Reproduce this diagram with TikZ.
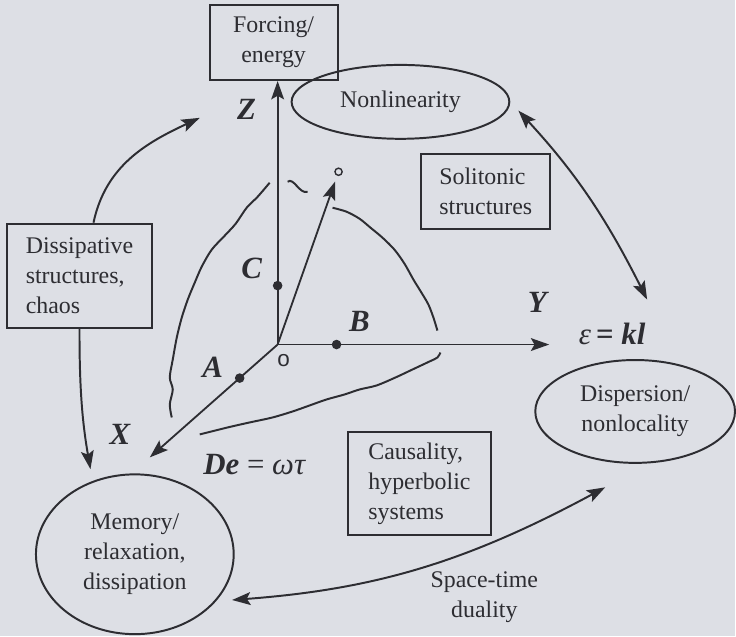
\documentclass[tikz,border=0pt]{standalone}
\usepackage{fontspec}
\setmainfont{Liberation Serif}
\setsansfont{Liberation Sans}
\usetikzlibrary{arrows.meta,shapes.geometric,calc}

\definecolor{paper}{RGB}{221,223,229}
\definecolor{ink}{RGB}{45,45,50}

\begin{document}
\begin{tikzpicture}[
  box/.style={rectangle, draw=ink, line width=1.4pt, minimum width=3.2cm, minimum height=1.875cm, align=left, font=\fontsize{17}{21.5}\selectfont, text=ink, inner sep=0pt},
  oval/.style={ellipse, draw=ink, line width=1.4pt, align=center, font=\fontsize{17}{21.5}\selectfont, text=ink, inner sep=0pt},
  lbl/.style={font=\fontsize{22}{26}\selectfont\bfseries\itshape, text=ink},
  dot/.style={circle, fill=ink, inner sep=0pt, minimum size=2.4mm},
  arr/.style={-{Stealth[length=4.6mm, width=3.2mm, inset=0.9mm]}, line width=1.3pt, draw=ink},
  dbl/.style={{Stealth[length=4.6mm, width=3.2mm, inset=0.9mm]}-{Stealth[length=4.6mm, width=3.2mm, inset=0.9mm]}, line width=1.4pt, draw=ink},
  wave/.style={draw=ink, line width=1.4pt}
]
  \fill[paper] (0,0) rectangle (18.4,15.925);

  % boxes and ovals
  \node[box, align=center] (force) at (6.85,14.86) {Forcing/\\energy};
  \node[oval, minimum width=5.45cm, minimum height=1.85cm] (nonlin) at (10.025,13.375) {Nonlinearity};
  \node[box, minimum width=3.225cm] (soliton) at (12.16,11.14) {Solitonic\\structures};
  \node[box, minimum width=3.625cm, minimum height=2.6cm] (dissip) at (1.99,9.025) {Dissipative\\structures,\\chaos};
  \node[oval, minimum width=4.95cm, minimum height=4cm] (memory) at (3.375,2.05) {Memory/\\relaxation,\\dissipation};
  \node[oval, minimum width=5cm, minimum height=2.575cm] (dispers) at (15.9,5.625) {Dispersion/\\nonlocality};
  \node[box, minimum width=3.6cm, minimum height=2.575cm] (causal) at (10.5,3.8125) {Causality,\\hyperbolic\\systems};
  \node[text=ink, font=\fontsize{17}{21.5}\selectfont, align=center] (duality) at (12.125,0.975) {Space-time\\duality};

  % axes
  \coordinate (o) at (6.95,7.3);
  \coordinate (xend) at (3.75,4.475);
  \coordinate (yend) at (13.75,7.3);
  \node[dot] (c) at (6.95,8.775) {};
  \node[dot] (b) at (8.425,7.3) {};
  \node[dot] (a) at (6.0,6.46) {};
  \node[circle, draw=ink, line width=1pt, inner sep=0pt, minimum size=1.8mm] (ring) at (8.475,11.625) {};
  \draw[arr] (o) -- (o |- force.south);
  \draw[arr] (o) -- (yend);
  \draw[arr] (o) -- (xend);
  \draw[arr, shorten >=1.5mm] (o) -- (ring);

  \node[lbl] (zl) at (6.175,13.175) {Z};
  \node[lbl] (cl) at (6.3,9.2) {C};
  \node[lbl] (bl) at (9.0,7.875) {B};
  \node[lbl] (al) at (5.325,6.725) {A};
  \node[lbl] (xl) at (3.0,5.05) {X};
  \node[lbl] (yl) at (13.45,8.35) {Y};
  \node[text=ink, font=\sffamily\fontsize{16}{18}\selectfont] (ol) at (7.1,6.9) {o};
  \node[text=ink, font=\fontsize{22}{26}\selectfont] (del) at (6.375,4.3) {\textbf{\textit{De}} = \textit{ωτ}};
  \node[text=ink, font=\fontsize{22}{26}\selectfont] (epsl) at (15.325,7.575) {\textit{ε}\,\textbf{= \textit{kl}}};

  % wavy outlines
  \draw[wave] plot[smooth] coordinates {(6.75,11.35) (6.45,11.0) (6.175,10.725) (5.9,10.325) (5.625,10.025) (5.3,9.675) (5.05,9.25) (4.875,8.85) (4.7,8.425) (4.55,7.975) (4.425,7.475) (4.325,6.925) (4.25,6.475) (4.325,6.175) (4.25,5.8) (4.3,5.475)};
  \draw[wave] (7.2,11.375) .. controls (7.35,11.5) and (7.5,11.05) .. (7.7,11.125);
  \draw[wave] plot[smooth] coordinates {(8.325,10.725) (8.675,10.625) (9.0,10.45) (9.275,10.225) (9.575,9.975) (9.875,9.675) (10.125,9.325) (10.35,8.925) (10.55,8.6) (10.725,8.3) (10.85,7.975) (10.95,7.65)};
  \draw[wave] plot[smooth] coordinates {(11.025,7.1) (10.95,6.975) (10.75,6.875) (10.325,6.675) (9.9,6.475) (9.425,6.275) (9.0,6.175) (8.625,6.05) (8.175,5.925) (7.75,5.775) (7.325,5.625) (6.825,5.475) (6.25,5.35) (5.7,5.225) (5.0,5.05)};

  % links
  \coordinate (zarr) at (5.0,12.975);
  \coordinate (epsup) at (16.2,8.425);
  \coordinate (disdn) at (15.15,3.725);
  \draw[arr, line width=1.4pt] ([xshift=0.35cm]dissip.north) to[out=78, in=205] (zarr);
  \draw[arr, line width=1.4pt, shorten >=0.3cm] (dissip.south) to[bend right=5] (memory.120);
  \draw[dbl, shorten <=0.3cm] (nonlin.east) to[bend left=8] (epsup);
  \draw[dbl, shorten <=0.4cm] (memory.-30) to[bend right=12] (disdn);
\end{tikzpicture}
\end{document}
